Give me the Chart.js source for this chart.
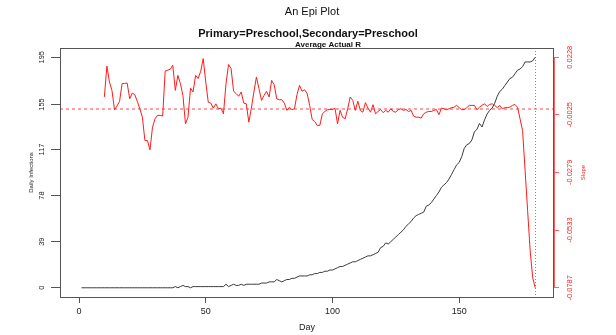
<!DOCTYPE html>
<html>
<head>
<meta charset="utf-8">
<title>An Epi Plot</title>
<script src="https://cdn.jsdelivr.net/npm/chart.js@4.4.1/dist/chart.umd.min.js"></script>
<style>
  html, body { margin: 0; padding: 0; background: #fff; }
  #wrap { width: 616px; height: 335px; }
</style>
</head>
<body>
<div id="wrap"><canvas id="epiChart" width="616" height="335"></canvas></div>
<script>
const mainTitle = 'An Epi Plot';
const subTitle = 'Primary=Preschool,Secondary=Preschool';
const subSubTitle = 'Average Actual R';

// daily infections, one value per day starting at day 1
const infectionStartDay = 1;
const dailyInfections = [
    0, 0, 0, 0, 0, 0, 0, 0, 0, 0,
    0, 0, 0, 0, 0, 0, 0, 0, 0, 0,
    0, 0, 0, 0, 0, 0, 0, 0, 0, 0,
    0, 0, 0, 0, 0, 0, 0, 1, 0, 1,
    2, 1, 1, 0, 1, 1, 1, 1, 1, 1,
    1, 1, 1, 1, 1, 1, 1, 3, 1, 2,
    3, 2, 2, 3, 2, 3, 3, 3, 3, 3,
    3, 4, 4, 4, 5, 5, 5, 7, 6, 5,
    6, 7, 7, 8, 8, 9, 10, 10, 10, 10,
    11, 11, 12, 12, 13, 13, 14, 14, 15, 15,
    16, 17, 18, 18, 19, 20, 21, 22, 22, 23,
    24, 25, 26, 27, 27, 28, 29, 30, 34, 35,
    38, 37, 39, 41, 43, 45, 47, 49, 52, 54,
    56, 59, 61, 62, 63, 64, 69, 70, 72, 75,
    78, 81, 85, 87, 89, 92, 96, 100, 104, 106,
    111, 118, 121, 122, 125, 132, 134, 139, 136, 142,
    147, 150, 152, 156, 162, 166, 168, 171, 174, 177,
    178, 181, 184, 185, 187, 191, 191, 191, 192, 195
];

// slope of average actual R, one value per day starting at day 10
const slopeStartDay = 10;
const slopeValues = [
    0.0053, 0.0189, 0.0119, 0.0082, -0.0003, 0.0013, 0.0034, 0.0112, 0.0113, 0.0114,
    0.0045, 0.0070, 0.0063, 0.0034, 0.0001, -0.0036, -0.0139, -0.0139, -0.0180, -0.0080,
    -0.0043, -0.0028, -0.0028, -0.0031, 0.0167, 0.0171, 0.0175, 0.0193, 0.0082, 0.0148,
    0.0112, 0.0060, -0.0065, -0.0036, 0.0092, 0.0075, 0.0148, 0.0134, 0.0166, 0.0222,
    0.0119, 0.0030, 0.0026, 0.0004, 0.0023, 0.0001, 0.0004, -0.0021, 0.0112, 0.0196,
    0.0178, 0.0078, 0.0068, 0.0056, 0.0075, 0.0026, 0.0023, -0.0058, 0.0004, 0.0075,
    0.0141, 0.0090, 0.0038, 0.0060, 0.0078, 0.0053, 0.0126, 0.0107, 0.0045, 0.0041,
    0.0041, 0.0026, -0.0006, 0.0008, -0.0003, 0.0001, 0.0063, 0.0104, 0.0078, 0.0085,
    0.0068, 0.0016, -0.0046, -0.0055, -0.0072, -0.0072, -0.0021, -0.0011, -0.0003, -0.0002,
    -0.0002, 0.0003, -0.0065, -0.0006, -0.0036, -0.0043, 0.0001, 0.0053, 0.0038, -0.0006,
    0.0034, -0.0006, -0.0014, 0.0028, 0.0004, -0.0014, 0.0019, -0.0021, -0.0011, -0.0002,
    -0.0016, -0.0006, -0.0014, 0.0001, -0.0011, -0.0014, -0.0002, 0.0001, -0.0006, -0.0002,
    -0.0011, -0.0006, -0.0031, -0.0036, -0.0036, -0.0040, -0.0021, -0.0014, -0.0011, -0.0011,
    -0.0006, -0.0002, -0.0025, 0.0004, 0.0001, -0.0003, 0.0001, 0.0006, 0.0008, 0.0016,
    0.0006, -0.0003, -0.0003, 0.0006, 0.0016, 0.0016, 0.0016, -0.0003, 0.0008, 0.0016,
    0.0023, 0.0011, 0.0020, 0.0023, 0.0016, 0.0006, 0.0016, 0.0001, 0.0006, 0.0006,
    0.0008, 0.0016, 0.0020, 0.0008, -0.0043, -0.0095, -0.0271, -0.0448, -0.0625, -0.0743,
    -0.0787
];

const dayTicks = [0, 50, 100, 150];
const infectionTicks = [0, 39, 78, 117, 155, 195];
const slopeTicks = [-0.0787, -0.0533, -0.0279, -0.0025, 0.0228];
const slopeRefLine = 0;
const lastDay = 180;

const fontFamily = '"Liberation Sans", Arial, sans-serif';
const boxClr = '#555';
const redClr = '#ff1a1a';

const infectionPoints = dailyInfections.map((v, i) => ({ x: infectionStartDay + i, y: v }));
const slopePoints = slopeValues.map((v, i) => ({ x: slopeStartDay + i, y: v }));

function fixedTicks(values) {
    return function (scale) {
        scale.ticks = values.map(v => ({ value: v }));
    };
}

const epiDecor = {
    id: 'epiDecor',
    beforeDatasetsDraw(chart) {
        const { ctx, chartArea: a, scales } = chart;
        const yRef = Math.round(scales.y2.getPixelForValue(slopeRefLine));
        const xEnd = Math.round(scales.x.getPixelForValue(lastDay)) + 0.5;
        ctx.save();
        // dashed reference line at slope 0
        ctx.lineWidth = 1;
        ctx.strokeStyle = 'rgb(255,70,70)';
        ctx.setLineDash([3, 3]);
        ctx.beginPath();
        ctx.moveTo(a.left, yRef);
        ctx.lineTo(a.right, yRef);
        ctx.stroke();
        // dotted marker at the last day
        ctx.strokeStyle = '#888';
        ctx.setLineDash([1, 2]);
        ctx.beginPath();
        ctx.moveTo(xEnd, a.top);
        ctx.lineTo(xEnd, a.bottom);
        ctx.stroke();
        ctx.restore();
    },
    afterDraw(chart) {
        const { ctx, chartArea: a, scales } = chart;
        ctx.save();
        // plot box
        ctx.lineWidth = 1;
        ctx.strokeStyle = boxClr;
        ctx.strokeRect(a.left + 0.5, a.top + 0.5, a.right - a.left - 1, a.bottom - a.top);
        // red right axis line, between first and last tick
        const y2 = scales.y2;
        ctx.strokeStyle = '#ff6060';
        ctx.beginPath();
        ctx.moveTo(a.right + 0.5, y2.getPixelForValue(slopeTicks[slopeTicks.length - 1]));
        ctx.lineTo(a.right + 0.5, y2.getPixelForValue(slopeTicks[0]));
        ctx.stroke();
        // titles
        ctx.fillStyle = '#111';
        ctx.textAlign = 'center';
        ctx.textBaseline = 'alphabetic';
        ctx.font = '11px ' + fontFamily;
        ctx.fillText(mainTitle, 312, 15);
        ctx.font = 'bold 11px ' + fontFamily;
        ctx.fillText(subTitle, 308, 36.5);
        ctx.font = 'bold 8px ' + fontFamily;
        ctx.fillText(subSubTitle, 328, 46.5);
        // right axis title
        ctx.fillStyle = redClr;
        ctx.font = '6px ' + fontFamily;
        ctx.textBaseline = 'middle';
        ctx.translate(583, (a.top + a.bottom) / 2);
        ctx.rotate(-Math.PI / 2);
        ctx.fillText('Slope', 0, 0);
        ctx.restore();
    }
};

const chartConfig = {
    type: 'line',
    data: {
        datasets: [{
            label: 'Slope',
            data: slopePoints,
            yAxisID: 'y2',
            borderColor: redClr,
            borderWidth: 1,
            pointRadius: 0,
            tension: 0
        }, {
            label: 'Daily Infections',
            data: infectionPoints,
            yAxisID: 'y',
            borderColor: '#3a3a3a',
            borderWidth: 1,
            pointRadius: 0,
            tension: 0
        }]
    },
    options: {
        responsive: false,
        animation: false,
        events: [],
        layout: {
            padding: { top: 48, left: 0, right: 0, bottom: 0 }
        },
        plugins: {
            legend: { display: false },
            tooltip: { enabled: false }
        },
        scales: {
            x: {
                type: 'linear',
                min: -7.5,
                max: 187.4,
                afterBuildTicks: fixedTicks(dayTicks),
                afterFit: function (scale) { scale.height = 38; },
                border: { display: false },
                grid: { drawOnChartArea: false, drawTicks: true, tickLength: 6, color: boxClr },
                ticks: {
                    padding: 3,
                    maxRotation: 0,
                    color: '#222',
                    font: { family: fontFamily, size: 9 }
                },
                title: {
                    display: true,
                    text: 'Day',
                    color: '#222',
                    padding: { top: 0, bottom: 2 },
                    font: { family: fontFamily, size: 9 }
                }
            },
            y: {
                type: 'linear',
                position: 'left',
                min: -7.8,
                max: 202.8,
                afterBuildTicks: fixedTicks(infectionTicks),
                afterFit: function (scale) { scale.width = 60; },
                border: { display: false },
                grid: { drawOnChartArea: false, drawTicks: true, tickLength: 9, color: boxClr },
                ticks: {
                    minRotation: 90,
                    maxRotation: 90,
                    crossAlign: 'center',
                    padding: 3,
                    color: '#222',
                    font: { family: fontFamily, size: 7.5 },
                    callback: function (value, index) { return String(infectionTicks[index]); }
                },
                title: {
                    display: true,
                    text: 'Daily Infections',
                    color: '#222',
                    padding: { top: 28, bottom: 0 },
                    font: { family: fontFamily, size: 6 }
                }
            },
            y2: {
                type: 'linear',
                position: 'right',
                min: -0.08276,
                max: 0.02686,
                afterBuildTicks: fixedTicks(slopeTicks),
                afterFit: function (scale) { scale.width = 62; },
                border: { display: false },
                grid: { drawOnChartArea: false, drawTicks: true, tickLength: 5, color: '#ff6060' },
                ticks: {
                    minRotation: 90,
                    maxRotation: 90,
                    crossAlign: 'center',
                    padding: -2,
                    color: redClr,
                    font: { family: fontFamily, size: 7.5 },
                    callback: function (value, index) { return slopeTicks[index].toFixed(4); }
                }
            }
        }
    },
    plugins: [epiDecor]
};

new Chart(document.getElementById('epiChart'), chartConfig);
</script>
</body>
</html>
